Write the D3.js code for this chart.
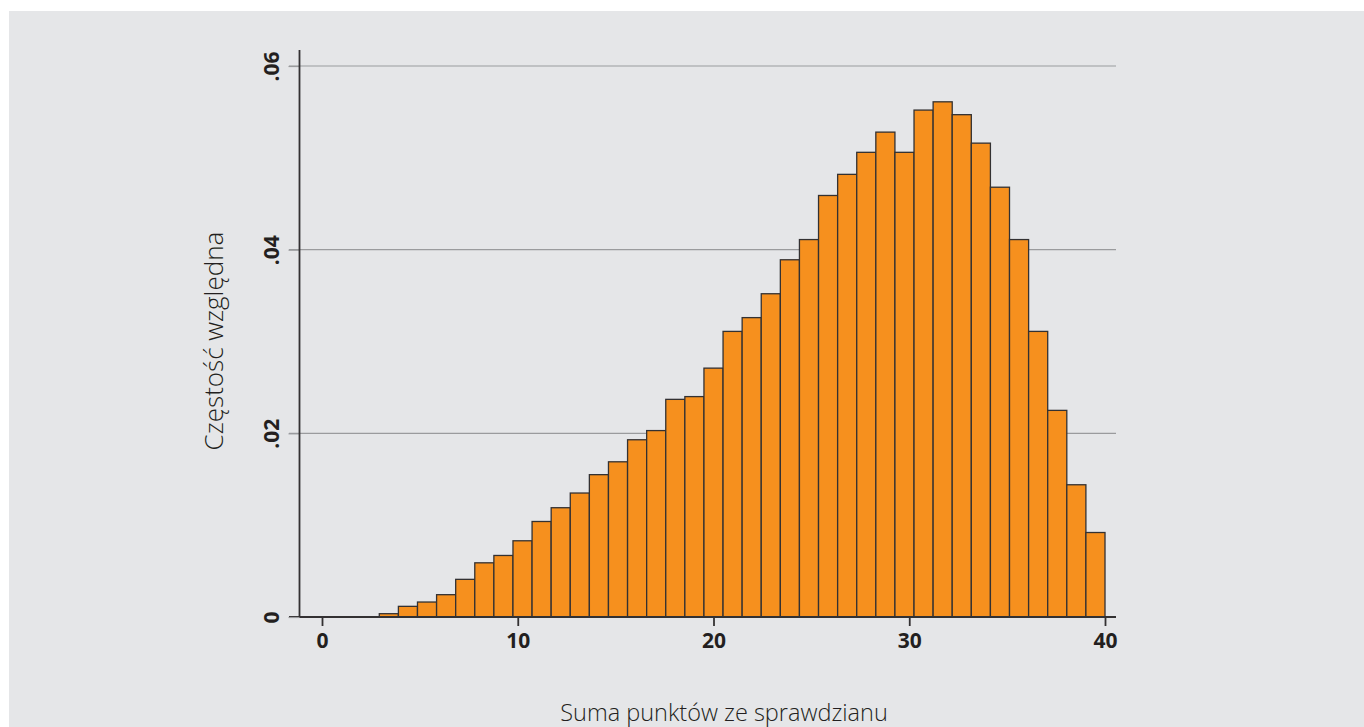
<!DOCTYPE html>
<html>
<head>
<meta charset="utf-8">
<script src="https://cdn.jsdelivr.net/npm/d3@7"></script>
<style>
  html, body { margin: 0; padding: 0; background: #ffffff; }
  svg { display: block; }
  .tick text { font-family: "Open Sans", "DejaVu Sans", sans-serif; font-weight: 700; font-size: 21px; fill: #231f20; }
  .title { font-family: "Open Sans", "DejaVu Sans", sans-serif; font-weight: 300; fill: #231f20; }
</style>
</head>
<body>
<script>
// ---- data ----
const binStart = 0;
const binEnd = 40;
const binIndex = d3.range(0, 41);
const frequencies = [0, 0, 0, 0.00036, 0.00116, 0.00163, 0.00243, 0.0041, 0.0059, 0.0067,
  0.0083, 0.0104, 0.0119, 0.0135, 0.0155, 0.0169, 0.0193, 0.0203, 0.0237, 0.0240,
  0.0271, 0.0311, 0.0326, 0.0352, 0.0389, 0.0411, 0.0459, 0.0482, 0.0506, 0.0528,
  0.0506, 0.0552, 0.0561, 0.0547, 0.0516, 0.0468, 0.0411, 0.0311, 0.0225, 0.0144, 0.0092];
const xTicks = [0, 10, 20, 30, 40];
const yTicks = [0, 0.02, 0.04, 0.06];
const yTickLabels = ["0", ".02", ".04", ".06"];
const xTitle = "Suma punktów ze sprawdzianu";
const yTitle = "Częstość względna";

// ---- layout ----
const W = 1364, H = 727;
const svg = d3.select("body").append("svg").attr("width", W).attr("height", H);
svg.append("rect").attr("x", 9).attr("y", 11).attr("width", W - 9).attr("height", H - 11).attr("fill", "#e5e6e8");

const x = d3.scaleLinear().domain([binStart, binEnd]).range([322, 1105]);
const y = d3.scaleLinear().domain([0, 0.06]).range([617, 66]);
const binW = (binEnd - binStart) / binIndex.length;
const plotL = 289, plotR = 1116, axisX = 299.5, axisTop = 50;

// gridlines
svg.append("g").selectAll("line").data(yTicks.slice(1)).join("line")
  .attr("x1", plotL).attr("x2", plotR)
  .attr("y1", d => y(d)).attr("y2", d => y(d))
  .attr("stroke", "#9a9b9d").attr("stroke-width", 1.2);

// bars
svg.append("g").selectAll("rect").data(binIndex).join("rect")
  .attr("x", i => x(binStart + i * binW))
  .attr("width", i => x(binStart + (i + 1) * binW) - x(binStart + i * binW))
  .attr("y", i => y(frequencies[i]))
  .attr("height", i => y(0) - y(frequencies[i]))
  .attr("fill", "#f6901e")
  .attr("stroke", "#333132").attr("stroke-width", 1.3);

// x axis
const gx = svg.append("g").attr("transform", `translate(0,${y(0)})`)
  .call(d3.axisBottom(x).tickValues(xTicks).tickSize(9).tickPadding(7).tickFormat(d3.format("d")));
gx.select(".domain").remove();
gx.selectAll(".tick line").attr("stroke", "#333132").attr("stroke-width", 1.8);
svg.append("line").attr("x1", plotL).attr("x2", plotR).attr("y1", y(0)).attr("y2", y(0))
  .attr("stroke", "#333132").attr("stroke-width", 1.8);

// y axis
const gy = svg.append("g").attr("transform", `translate(${axisX},0)`)
  .call(d3.axisLeft(y).tickValues(yTicks).tickSize(11).tickPadding(0).tickFormat((d, i) => yTickLabels[i]));
gy.select(".domain").remove();
gy.selectAll(".tick line").attr("stroke", "#9a9b9d").attr("stroke-width", 1.2);
gy.selectAll(".tick text")
  .attr("x", 0).attr("dy", null)
  .attr("transform", "translate(-21,0) rotate(-90)")
  .attr("text-anchor", "middle");
svg.append("line").attr("x1", axisX).attr("x2", axisX).attr("y1", axisTop).attr("y2", y(0))
  .attr("stroke", "#333132").attr("stroke-width", 1.8);

// titles
svg.append("text").attr("class", "title").style("font-size", "23.5px")
  .attr("x", 724).attr("y", 721).attr("text-anchor", "middle").text(xTitle);
svg.append("text").attr("class", "title").style("font-size", "26px")
  .attr("transform", `translate(223,341) rotate(-90)`).attr("text-anchor", "middle").text(yTitle);
</script>
</body>
</html>
